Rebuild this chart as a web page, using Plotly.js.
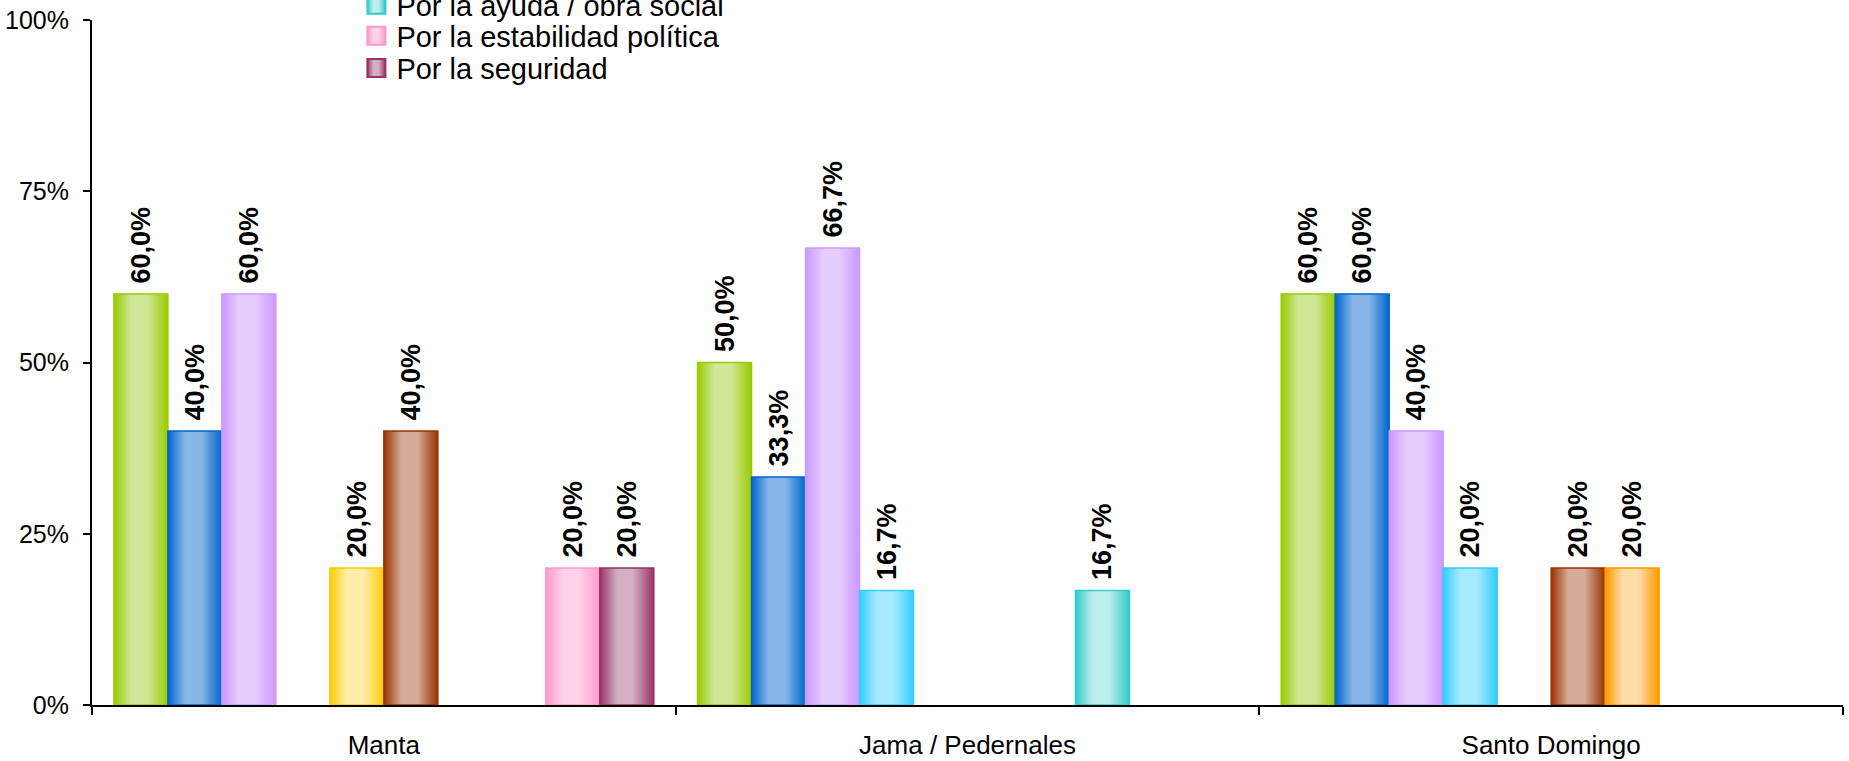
<!DOCTYPE html>
<html>
<head>
<meta charset="utf-8">
<script src="https://cdn.plot.ly/plotly-3.0.1.min.js"></script>
<style>
  html, body { margin: 0; padding: 0; background: #ffffff; }
  #chart { width: 1849px; height: 761px; }
</style>
</head>
<body>
<div id="chart"></div>
<script>
// Categories (x axis)
const categories = ["Manta", "Jama / Pedernales", "Santo Domingo"];

// Series names (only the last three are visible in the reference legend)
const seriesNames = [
  "Serie 1", "Serie 2", "Serie 3", "Serie 4", "Serie 5",
  "Serie 6", "Serie 7",
  "Por la ayuda / obra social",
  "Por la estabilidad política",
  "Por la seguridad"
];

// Values in percent, one array per series (null = no bar)
const serie1 = [60.0, 50.0, 60.0];
const serie2 = [40.0, 33.3, 60.0];
const serie3 = [60.0, 66.7, 40.0];
const serie4 = [null, 16.7, 20.0];
const serie5 = [20.0, null, null];
const serie6 = [40.0, null, 20.0];
const serie7 = [null, null, 20.0];
const ayudaObraSocial = [null, 16.7, null];
const estabilidadPolitica = [20.0, null, null];
const seguridad = [20.0, null, null];

const seriesValues = [serie1, serie2, serie3, serie4, serie5, serie6, serie7,
                      ayudaObraSocial, estabilidadPolitica, seguridad];

// Y axis ticks
const yTickVals = [0, 25, 50, 75, 100];
const yTickText = ["0%", "25%", "50%", "75%", "100%"];

// Styling: edge (outline) colour and light centre colour of each bar
const edgeColors = ["#99CC00", "#0066CC", "#CC99FF", "#33CCFF", "#FFCC00",
                    "#993300", "#FF9900", "#33CCCC", "#FF99CC", "#993366"];
const centerColors = ["#CFE799", "#88B6E8", "#E6CCFF", "#A8EAFF", "#FFEEAA",
                      "#D6AC98", "#FFDCA8", "#BDEEEE", "#FFD2E9", "#D2AFC1"];
const fillColors = ["#C4E185", "#74A8E1", "#DDBFFF", "#8FE3FF", "#FFE68A",
                    "#C8957E", "#FFD08A", "#A3E4E4", "#FFC4E1", "#C393AB"];
const legendOf = [null, null, null, null, null, null, null, "legend", "legend2", "legend3"];

const FONT = "Liberation Sans, Arial, Helvetica, sans-serif";

const traces = seriesValues.map((vals, i) => {
  const t = {
    type: "bar",
    name: seriesNames[i],
    x: categories,
    y: vals,
    showlegend: legendOf[i] !== null,
    marker: { color: fillColors[i], line: { color: edgeColors[i], width: 1.5 } },
    texttemplate: "\u00a0%{y:.1f}%",
    textposition: "outside",
    textangle: -90,
    constraintext: "none",
    cliponaxis: false,
    textfont: { family: FONT, size: 27, color: "#000000", weight: "bold" },
    hoverinfo: "x+y+name"
  };
  if (legendOf[i]) t.legend = legendOf[i];
  return t;
});

function legendBox(yc) {
  return {
    x: 0.151, xanchor: "left", xref: "paper",
    y: yc, yanchor: "middle", yref: "container",
    font: { family: FONT, size: 29, color: "#000000" },
    bgcolor: "rgba(0,0,0,0)",
    borderwidth: 0
  };
}

const layout = {
  width: 1849,
  height: 761,
  paper_bgcolor: "#ffffff",
  plot_bgcolor: "#ffffff",
  separators: ",.",
  font: { family: FONT, color: "#000000" },
  margin: { l: 92, r: 6, t: 20, b: 56, pad: 0, autoexpand: false },
  barmode: "group",
  bargap: 0.075,
  bargroupgap: 0,
  showlegend: true,
  legend: legendBox(0.9934),
  legend2: legendBox(0.9527),
  legend3: legendBox(0.9106),
  xaxis: {
    type: "category",
    showgrid: false,
    showline: true,
    linecolor: "#000000",
    linewidth: 2,
    ticks: "outside",
    tickson: "boundaries",
    ticklen: 8,
    tickwidth: 2,
    tickcolor: "#000000",
    ticklabelstandoff: 16,
    tickfont: { family: FONT, size: 26, color: "#000000" },
    zeroline: false
  },
  yaxis: {
    range: [0, 100],
    tickmode: "array",
    tickvals: yTickVals,
    ticktext: yTickText,
    showgrid: false,
    zeroline: false,
    showline: true,
    linecolor: "#000000",
    linewidth: 2,
    ticks: "outside",
    ticklen: 7,
    tickwidth: 2,
    tickcolor: "#000000",
    ticklabelstandoff: 9,
    tickfont: { family: FONT, size: 25, color: "#000000" }
  }
};

// Horizontal "cylinder" shading of bars, as in the reference
function applyGradients(gd) {
  const svg = gd.querySelector("svg.main-svg");
  if (!svg) return;
  const ns = "http://www.w3.org/2000/svg";
  let defs = svg.querySelector("defs");
  if (!defs) { defs = document.createElementNS(ns, "defs"); svg.insertBefore(defs, svg.firstChild); }
  edgeColors.forEach((edge, i) => {
    const g = document.createElementNS(ns, "linearGradient");
    g.setAttribute("id", "barGrad" + i);
    g.setAttribute("x1", "0"); g.setAttribute("x2", "1");
    g.setAttribute("y1", "0"); g.setAttribute("y2", "0");
    [[0, edge], [0.32, centerColors[i]], [0.62, centerColors[i]], [1, edge]].forEach(([o, c]) => {
      const s = document.createElementNS(ns, "stop");
      s.setAttribute("offset", String(o));
      s.setAttribute("stop-color", c);
      g.appendChild(s);
    });
    defs.appendChild(g);
  });
  gd.querySelectorAll(".barlayer .trace").forEach((tr) => {
    const d = tr.__data__;
    const idx = d && d[0] && d[0].trace ? d[0].trace.index : null;
    if (idx === null || idx === undefined) return;
    tr.querySelectorAll(".point path").forEach((p) => { p.style.fill = "url(#barGrad" + idx + ")"; });
  });
  gd.querySelectorAll(".infolayer g.traces").forEach((tr) => {
    const d = tr.__data__;
    const idx = d && d[0] && d[0].trace ? d[0].trace.index : null;
    if (idx === null || idx === undefined) return;
    tr.querySelectorAll(".legendpoints path").forEach((p) => {
      p.style.fill = "url(#barGrad" + idx + ")";
      p.setAttribute("d", "M9,9H-9V-9H9Z");
      p.style.strokeWidth = "2px";
    });
  });
}

Plotly.newPlot("chart", traces, layout, { displayModeBar: false, staticPlot: true })
  .then(applyGradients);
</script>
</body>
</html>
